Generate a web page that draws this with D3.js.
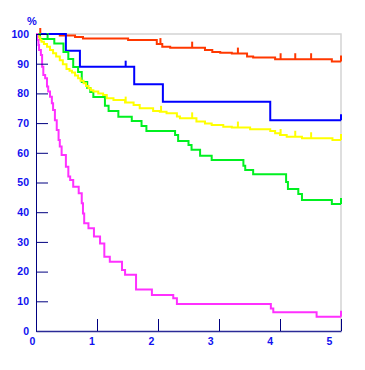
<!DOCTYPE html>
<html>
<head>
<meta charset="utf-8">
<script src="https://cdn.jsdelivr.net/npm/d3@7"></script>
<style>
  body { margin: 0; background: #fff; }
  svg { display: block; }
  .lbl text { font-family: "Liberation Sans", Arial, sans-serif; font-weight: bold; font-size: 10.5px; fill: #1010f0; }
</style>
</head>
<body>
<div id="draw"></div>
<script>
// survival curves, time in years, survival in %
const redT = [0, 0.39, 0.64, 0.77, 1.51, 1.98, 2.07, 2.20, 2.77, 2.89, 3.02, 3.21, 3.46, 3.56, 3.92, 4.85];
const redS = [100, 99.5, 99.0, 98.5, 98.0, 96.6, 95.7, 95.4, 94.6, 93.9, 93.7, 93.4, 92.4, 92.1, 91.5, 90.7];
const redC = [0.07, 2.04, 2.56, 3.31, 4.01, 4.25, 4.51, 5.0];

const blueT = [0, 0.49, 0.72, 1.61, 2.08, 3.84];
const blueS = [100, 94.4, 89.0, 83.1, 77.2, 71.0];
const blueC = [1.47, 5.0];

const greenT = [0, 0.066, 0.30, 0.45, 0.53, 0.61, 0.69, 0.75, 0.84, 0.89, 0.94, 1.13, 1.19, 1.35, 1.57, 1.73, 1.81, 2.28, 2.33, 2.50, 2.55, 2.69, 2.88, 3.40, 3.43, 3.56, 4.10, 4.13, 4.30, 4.36, 4.85];
const greenS = [100, 98.3, 96.8, 93.9, 91.6, 88.9, 87.2, 83.8, 81.8, 80.5, 78.8, 75.8, 74.1, 72.1, 70.7, 69.0, 67.3, 66.0, 64.0, 62.6, 61.0, 59.0, 57.6, 55.6, 54.2, 52.8, 50.2, 47.8, 46.1, 44.1, 42.8];
const greenC = [0.19, 5.0];

const yellowT = [0, 0.02, 0.04, 0.07, 0.09, 0.13, 0.18, 0.23, 0.28, 0.33, 0.39, 0.44, 0.50, 0.55, 0.59, 0.64, 0.69, 0.73, 0.78, 0.82, 0.86, 0.90, 0.94, 1.02, 1.10, 1.16, 1.27, 1.46, 1.60, 1.70, 1.92, 2.03, 2.14, 2.31, 2.36, 2.63, 2.77, 2.88, 3.07, 3.21, 3.51, 3.84, 3.92, 4.00, 4.11, 4.36, 4.86];
const yellowS = [100, 99.3, 98.9, 98.0, 97.4, 96.6, 95.7, 94.6, 93.5, 92.4, 91.2, 89.8, 88.2, 87.6, 87.0, 86.0, 85.1, 84.3, 83.4, 82.5, 81.7, 81.1, 80.6, 80.0, 79.5, 78.4, 77.8, 76.9, 76.1, 75.0, 74.1, 73.8, 73.3, 72.2, 71.6, 70.5, 69.9, 69.4, 68.8, 68.5, 67.9, 67.3, 66.6, 66.0, 65.4, 64.9, 64.3];
const yellowC = [1.47, 2.05, 2.56, 3.31, 4.01, 4.25, 4.51, 5.0];

const magentaT = [0, 0.02, 0.04, 0.05, 0.08, 0.10, 0.12, 0.15, 0.18, 0.20, 0.23, 0.26, 0.28, 0.31, 0.34, 0.37, 0.39, 0.42, 0.49, 0.53, 0.56, 0.61, 0.70, 0.75, 0.77, 0.79, 0.86, 0.95, 1.05, 1.12, 1.21, 1.41, 1.46, 1.64, 1.90, 2.25, 2.31, 3.85, 3.89, 4.60];
const magentaS = [100, 98.0, 96.3, 94.6, 92.9, 89.0, 86.2, 85.1, 82.3, 80.6, 78.9, 76.7, 74.4, 71.0, 67.7, 64.3, 62.1, 59.3, 55.3, 52.0, 50.8, 48.6, 46.4, 43.0, 39.6, 36.3, 34.6, 31.8, 29.5, 25.0, 23.3, 20.5, 18.9, 14.0, 12.1, 11.0, 9.1, 7.6, 6.3, 4.8];
const magentaC = [5.0];

const yTicks = [0, 10, 20, 30, 40, 50, 60, 70, 80, 90, 100];
const xTicks = [1, 2, 3, 4, 5];
const xLabels = [0, 1, 2, 3, 4, 5];

const series = [
    {t: redT, s: redS, c: redC, color: "#ff3800"},
    {t: blueT, s: blueS, c: blueC, color: "#0000ff"},
    {t: greenT, s: greenS, c: greenC, color: "#00f020"},
    {t: yellowT, s: yellowS, c: yellowC, color: "#ffff00"},
    {t: magentaT, s: magentaS, c: magentaC, color: "#ff30ff"}
];

const W = 365, H = 370;
const tMax = 5;

const svg = d3.select("#draw").append("svg")
    .attr("width", W)
    .attr("height", H);

const x = d3.scaleLinear().domain([0, tMax]).range([36, 341]);
const y = d3.scaleLinear().domain([0, 100]).range([331, 34]);
// the tick labels sit a little off the tick marks in the original
const xl = d3.scaleLinear().domain([0, tMax]).range([32, 329]);

// light frame top and right
svg.append("path")
    .attr("d", "M" + x(0) + "," + y(100) + "H" + x(tMax) + "V" + y(0))
    .attr("fill", "none")
    .attr("stroke", "#d4d4d4")
    .attr("stroke-width", 1.5);

// survival value at time t (step function)
function survAt(d, t) {
    let v = d.s[0];
    for (let i = 0; i < d.t.length; i++) if (d.t[i] <= t) v = d.s[i];
    return v;
}

const line = d3.line()
    .x(p => x(p[0]))
    .y(p => y(p[1]))
    .curve(d3.curveStepAfter);

series.forEach(d => {
    const pts = d.t.map((t, i) => [t, d.s[i]]);
    pts.push([tMax, d.s[d.s.length - 1]]);
    svg.append("path")
        .attr("d", line(pts))
        .attr("fill", "none")
        .attr("stroke", d.color)
        .attr("stroke-width", 2);
    // censoring marks
    svg.selectAll(null)
        .data(d.c)
        .enter().append("line")
        .attr("x1", t => x(t))
        .attr("x2", t => x(t))
        .attr("y1", t => y(survAt(d, t)))
        .attr("y2", t => y(survAt(d, t)) - 6)
        .attr("stroke", d.color)
        .attr("stroke-width", 2);
});

// y axis
const yAxis = svg.append("g")
    .attr("class", "lbl")
    .attr("transform", "translate(" + x(0) + ",0)")
    .call(d3.axisLeft(y).tickValues(yTicks).tickSizeInner(-12).tickSizeOuter(0).tickPadding(7));
yAxis.select(".domain").attr("stroke", "#000080");
yAxis.selectAll(".tick line").attr("stroke", "#000080");

// x axis ticks
const xAxis = svg.append("g")
    .attr("transform", "translate(0," + y(0) + ")")
    .call(d3.axisBottom(x).tickValues(xTicks).tickSizeInner(-12).tickSizeOuter(0).tickFormat(""));
xAxis.select(".domain").attr("stroke", "#2a2a96").attr("stroke-width", 1.6);
xAxis.selectAll(".tick line").attr("stroke", "#000080");

// x labels
const xLab = svg.append("g")
    .attr("class", "lbl")
    .attr("transform", "translate(0," + y(0) + ")")
    .call(d3.axisBottom(xl).tickValues(xLabels).tickSize(0).tickPadding(7).tickFormat(d3.format("d")));
xLab.select(".domain").remove();

svg.selectAll(".lbl text")
    .attr("font-family", null)
    .attr("font-size", null)
    .attr("fill", null);

svg.append("g").attr("class", "lbl")
    .append("text")
    .attr("x", 32)
    .attr("y", 25)
    .attr("text-anchor", "middle")
    .style("font-size", "11px")
    .text("%");
</script>
</body>
</html>
